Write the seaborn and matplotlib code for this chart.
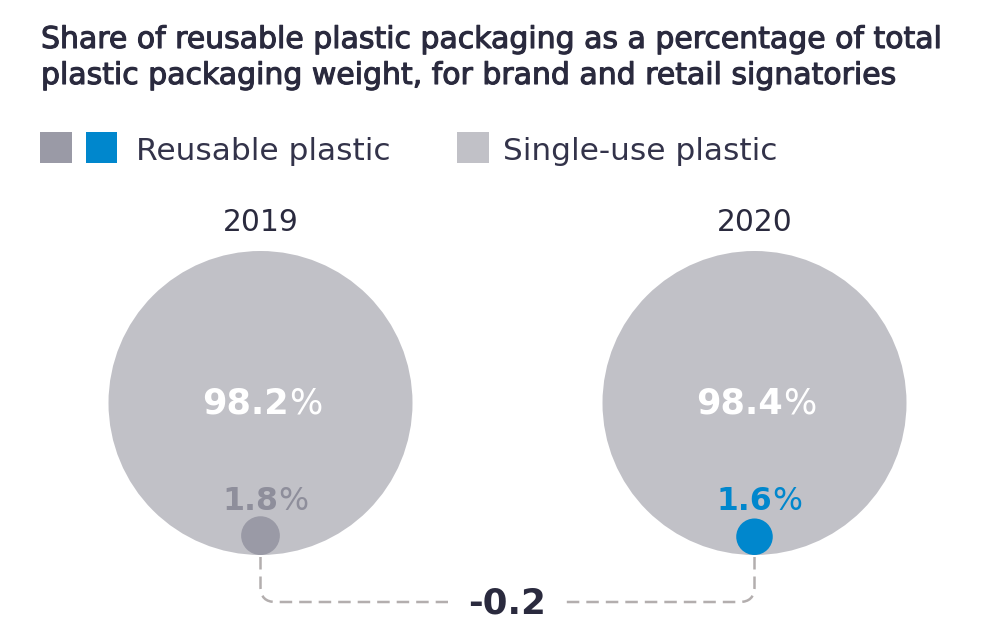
import matplotlib
matplotlib.use("Agg")
import matplotlib.pyplot as plt
from matplotlib.patches import Rectangle, PathPatch
from matplotlib.path import Path
import matplotlib.patheffects as pe
import seaborn as sns
import pandas as pd
import numpy as np

# ---------------- data ----------------
years = ["2019", "2020"]
reusable = [1.8, 1.6]
single_use = [98.2, 98.4]
legend_labels = ["Reusable plastic", "Single-use plastic"]
title_lines = ["Share of reusable plastic packaging as a percentage of total",
               "plastic packaging weight, for brand and retail signatories"]
change = round(reusable[1] - reusable[0], 1)

# ---------------- style ----------------
sns.set_theme(style="white")
FONT = "DejaVu Sans"
plt.rcParams["font.family"] = [FONT]

DARK = "#2a2a3e"
BIG = "#c1c1c7"
GREY_SMALL = "#9a9aa6"
GREY_TXT = "#8e8e9b"
BLUE = "#0087cd"
DASH = "#b3aeae"

W, H = 998, 639
fig = plt.figure(figsize=(W / 100, H / 100), dpi=100)
ax = fig.add_axes([0, 0, 1, 1])

cx = [260.5, 754.5]      # circle centres (layout)
cy = 403.0
R = 152.0                # big circle radius in px (represents 100 %)
bottom = cy + R
small_cols = [GREY_SMALL, BLUE]
small_txt = [GREY_TXT, BLUE]
px2pt = 72 / 100.0

def area_s(radius_px):
    return (2 * radius_px * px2pt) ** 2

def radius_of(v):
    f = 1.0 if v > 50 else 0.95
    return R * np.sqrt(v / 100.0) * f

rows = []
for i, y in enumerate(years):
    total = round(reusable[i] + single_use[i], 6)
    rows.append(dict(x=cx[i], y=cy, key=f"big{y}", val=total))
for i, y in enumerate(years):
    rows.append(dict(x=cx[i], y=bottom - radius_of(reusable[i]),
                     key=f"small{y}", val=reusable[i]))
df = pd.DataFrame(rows)

size_map = {v: area_s(radius_of(v)) for v in df["val"].unique()}
palette = {f"big{y}": BIG for y in years}
palette.update({f"small{y}": small_cols[i] for i, y in enumerate(years)})

sns.scatterplot(data=df, x="x", y="y", hue="key", palette=palette,
                size="val", sizes=size_map, linewidth=0, legend=False,
                ax=ax, zorder=2)
ax.set_xlim(0, W)
ax.set_ylim(H, 0)
ax.axis("off")

fig.canvas.draw()
renderer = fig.canvas.get_renderer()

def width_of(t):
    return t.get_window_extent(renderer).width

def fit(t, target):
    for _ in range(2):
        w = width_of(t)
        t.set_fontsize(t.get_fontsize() * target / w)

# ---------------- title ----------------
thick = [pe.withStroke(linewidth=0.8, foreground=DARK)]
t = ax.text(41, 48, title_lines[0], fontsize=20, color=DARK,
            va="baseline", ha="left", path_effects=thick)
fit(t, 900)
ax.text(41, 84, title_lines[1], fontsize=t.get_fontsize(), color=DARK,
        va="baseline", ha="left", path_effects=thick)

# ---------------- legend ----------------
ax.add_patch(Rectangle((40, 132), 32, 31, color=GREY_SMALL, lw=0))
ax.add_patch(Rectangle((86, 132), 31, 31, color=BLUE, lw=0))
l1 = ax.text(136, 160, legend_labels[0], fontsize=20, color="#33334a",
             va="baseline", ha="left")
fit(l1, 254)
ax.add_patch(Rectangle((457, 132), 32, 31, color=BIG, lw=0))
ax.text(503, 160, legend_labels[1], fontsize=l1.get_fontsize(),
        color="#33334a", va="baseline", ha="left")

def two_part(xc, yb, bold, reg, color, target):
    size = 20
    t1 = ax.text(0, yb, bold, fontsize=size, fontweight="bold", color=color,
                 va="baseline", ha="left", zorder=5)
    t2 = ax.text(0, yb, reg, fontsize=size, fontweight="normal", color=color,
                 va="baseline", ha="left", zorder=5)
    for _ in range(2):
        w = width_of(t1) + width_of(t2)
        size = size * target / w
        t1.set_fontsize(size)
        t2.set_fontsize(size)
    w1 = width_of(t1)
    w2 = width_of(t2)
    start = xc - (w1 + w2) / 2
    t1.set_x(start)
    t2.set_x(start + w1)

for i, y in enumerate(years):
    yt = ax.text(cx[i], 231, y, fontsize=20, color=DARK, ha="center",
                 va="baseline")
    fit(yt, 76)
    two_part(cx[i] + 2, 414, f"{single_use[i]:.1f}", "%", "white", 120)
    two_part(cx[i] + 5, 510, f"{reusable[i]:.1f}", "%", small_txt[i], 86)

# ---------------- connector ----------------
rc = 15
yl = 602
x0, x1 = cx
gap_l, gap_r = 448, 565
codes = [Path.MOVETO, Path.LINETO, Path.CURVE3, Path.CURVE3, Path.LINETO]
verts_l = [(x0, bottom + 2), (x0, yl - rc), (x0, yl), (x0 + rc, yl), (gap_l, yl)]
verts_r = [(x1, bottom + 2), (x1, yl - rc), (x1, yl), (x1 - rc, yl), (gap_r, yl)]
for verts in (verts_l, verts_r):
    ax.add_patch(PathPatch(Path(verts, codes), fill=False, edgecolor=DASH,
                           lw=1.8, linestyle=(0, (5, 2.8)), zorder=1))

ct = ax.text((x0 + x1) / 2, 613, f"{change:.1f}", fontsize=25,
             fontweight="bold", color=DARK, ha="center", va="baseline")
fit(ct, 78)

fig.savefig("out.png", dpi=100)
